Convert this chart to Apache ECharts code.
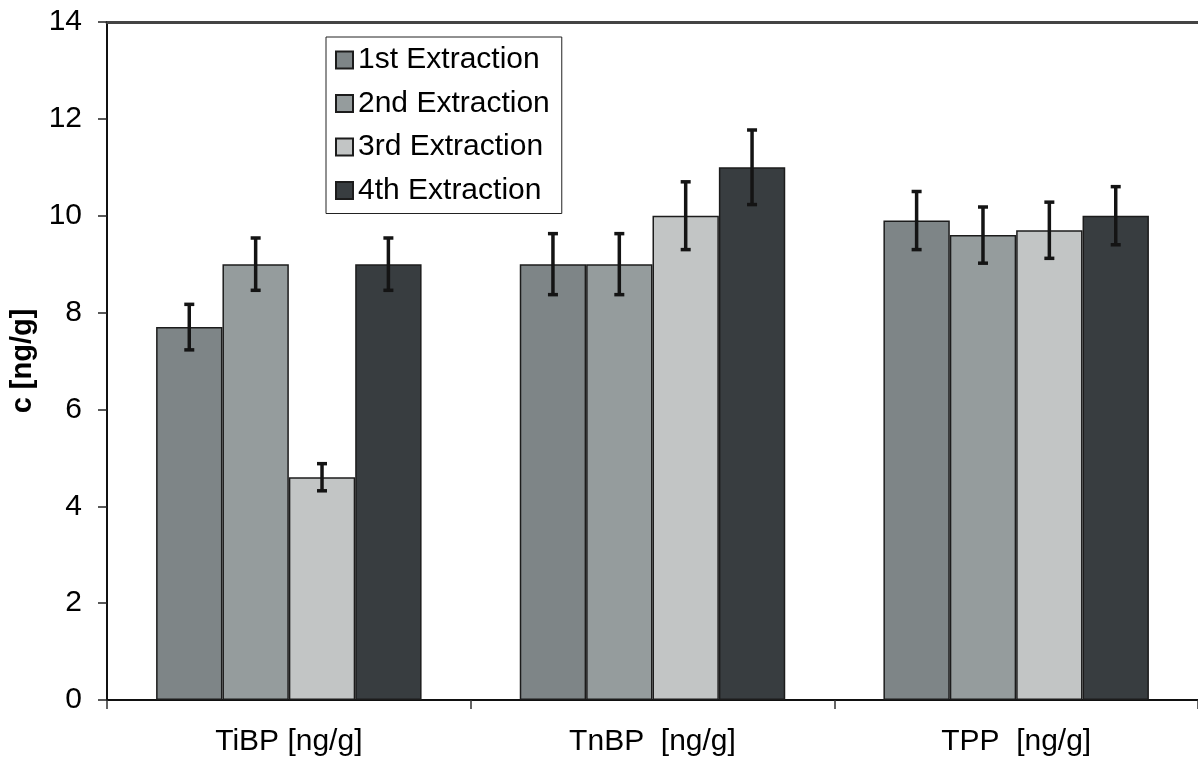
<!DOCTYPE html>
<html>
<head>
<meta charset="utf-8">
<script src="https://cdn.jsdelivr.net/npm/echarts@6/dist/echarts.min.js"></script>
<style>
  html, body { margin: 0; padding: 0; background: #fff; }
  #chart { width: 1198px; height: 764px; }
</style>
</head>
<body>
<div id="chart"></div>
<script>
// Compounds on the x axis
const categories = ['TiBP [ng/g]', 'TnBP  [ng/g]', 'TPP  [ng/g]'];
// Extraction series names
const seriesNames = ['1st Extraction', '2nd Extraction', '3rd Extraction', '4th Extraction'];
// Concentration per extraction, one value per compound
const ext1 = [7.7, 9.0, 9.9];
const ext2 = [9.0, 9.0, 9.6];
const ext3 = [4.6, 10.0, 9.7];
const ext4 = [9.0, 11.0, 10.0];
// Error (+/-) per extraction, one value per compound
const err1 = [0.47, 0.63, 0.60];
const err2 = [0.54, 0.63, 0.58];
const err3 = [0.28, 0.70, 0.58];
const err4 = [0.54, 0.77, 0.60];
// Y axis range
const yMin = 0, yMax = 14, yStep = 2;

const values = [ext1, ext2, ext3, ext4];
const errors = [err1, err2, err3, err4];
const colors = ['#7e8587', '#959c9d', '#c2c5c5', '#383d40'];
const gapRatio = 0.27;
const font = 'Liberation Sans, Arial, sans-serif';

const chart = echarts.init(document.getElementById('chart'), null, { renderer: 'canvas' });

const barSeries = values.map((vals, i) => ({
  name: seriesNames[i],
  type: 'bar',
  data: vals,
  barGap: '0%',
  barCategoryGap: (gapRatio * 100) + '%',
  itemStyle: { color: colors[i], borderColor: '#1c1c1c', borderWidth: 1.5 },
  emphasis: { disabled: true },
  z: 2
}));

// Error bars drawn on top of each bar
const errSeries = values.map((vals, i) => ({
  type: 'custom',
  name: seriesNames[i] + ' err',
  data: vals.map((v, k) => [k, v, errors[i][k]]),
  z: 5,
  silent: true,
  renderItem: function (params, api) {
    const k = api.value(0);
    const v = api.value(1);
    const e = api.value(2);
    const band = api.size([1, 0])[0];
    const bw = band * (1 - gapRatio) / values.length;
    const off = (i - (values.length - 1) / 2) * bw;
    const top = api.coord([k, v + e]);
    const bot = api.coord([k, v - e]);
    const x = top[0] + off;
    const cap = 5;
    const style = { stroke: '#141414', lineWidth: 3.5 };
    return {
      type: 'group',
      children: [
        { type: 'line', shape: { x1: x, y1: top[1], x2: x, y2: bot[1] }, style: style },
        { type: 'line', shape: { x1: x - cap, y1: top[1], x2: x + cap, y2: top[1] }, style: style },
        { type: 'line', shape: { x1: x - cap, y1: bot[1], x2: x + cap, y2: bot[1] }, style: style }
      ]
    };
  }
}));

chart.setOption({
  animation: false,
  backgroundColor: '#ffffff',
  grid: { left: 107, top: 22, width: 1096, bottom: 64, containLabel: false },
  legend: {
    data: seriesNames,
    orient: 'vertical',
    left: 326,
    top: 37,
    padding: [8, 12, 8, 9],
    itemGap: 13.5,
    itemWidth: 17,
    itemHeight: 17,
    icon: 'rect',
    borderColor: '#222',
    borderWidth: 1,
    backgroundColor: '#fff',
    selectedMode: false,
    textStyle: { fontFamily: font, fontSize: 30, color: '#000', padding: [0, 0, 0, 0], lineHeight: 30 }
  },
  xAxis: [{
    type: 'category',
    data: categories,
    position: 'bottom',
    axisLine: { lineStyle: { color: '#111', width: 2 } },
    axisTick: { show: true, length: 9, inside: false, lineStyle: { color: '#333', width: 1.5 } },
    axisLabel: { fontFamily: font, fontSize: 30, color: '#000', margin: 27 },
    splitLine: { show: false }
  }, {
    type: 'category',
    data: categories,
    position: 'top',
    axisLine: { lineStyle: { color: '#444', width: 3 } },
    axisTick: { show: false },
    axisLabel: { show: false },
    splitLine: { show: false }
  }],
  yAxis: {
    type: 'value',
    min: yMin,
    max: yMax,
    interval: yStep,
    name: 'c [ng/g]',
    nameLocation: 'middle',
    nameGap: 70,
    nameTextStyle: { fontFamily: font, fontSize: 29, fontWeight: 'bold', color: '#000' },
    axisLine: { show: true, lineStyle: { color: '#111', width: 2 } },
    axisTick: { show: true, length: 9, inside: false, lineStyle: { color: '#222', width: 1.5 } },
    axisLabel: { fontFamily: font, fontSize: 30, color: '#000', margin: 25 },
    splitLine: { show: false }
  },
  series: barSeries.concat(errSeries)
});
</script>
</body>
</html>
